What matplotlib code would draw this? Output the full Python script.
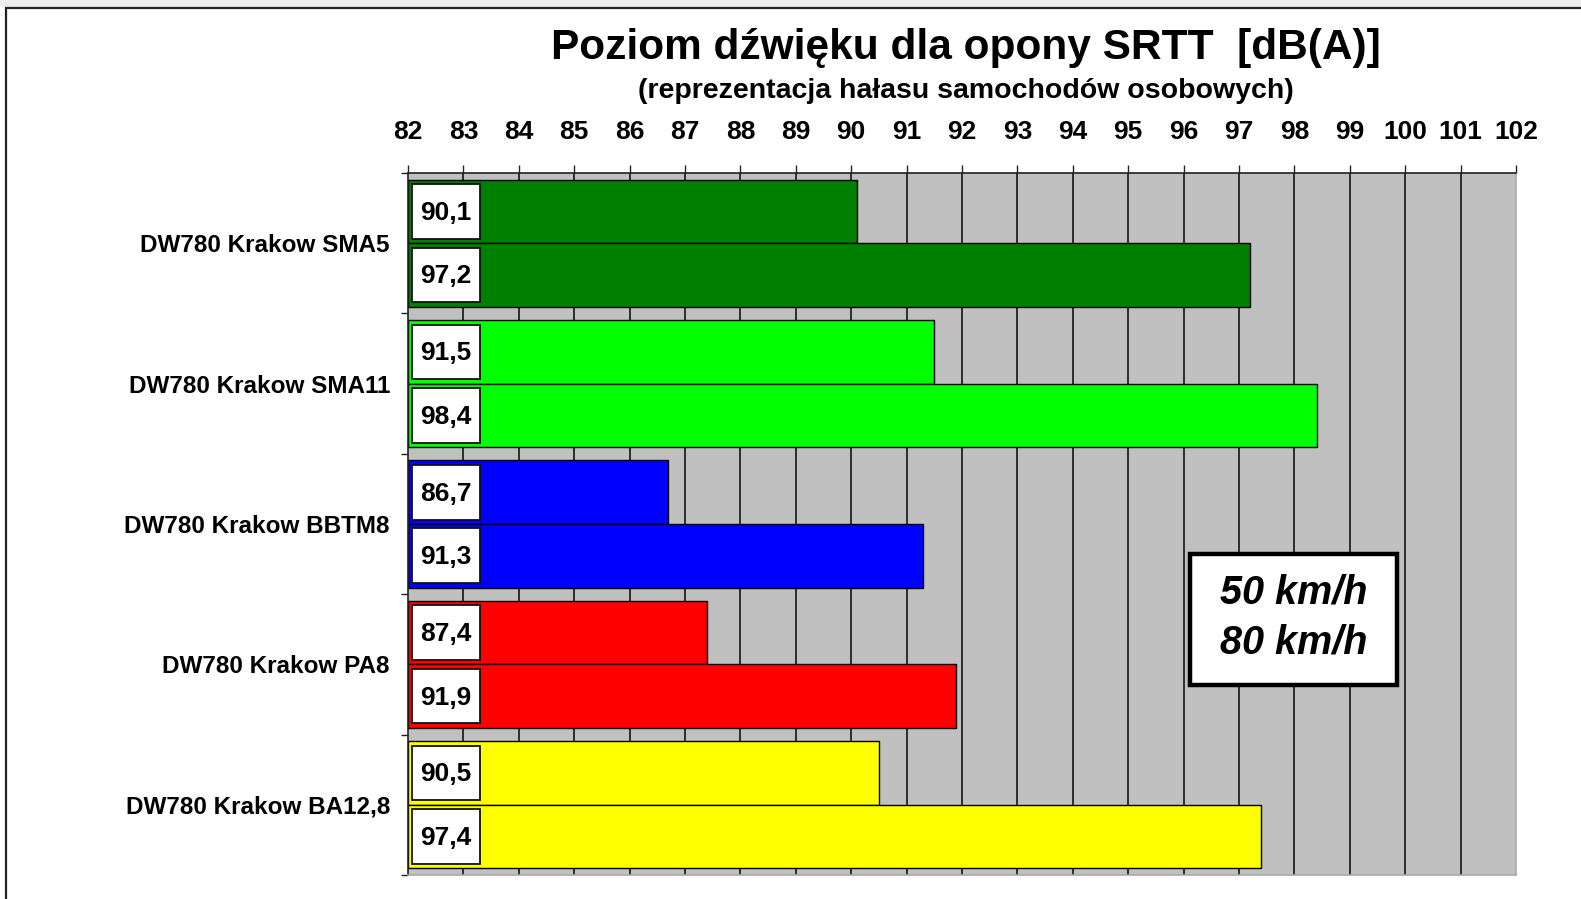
import matplotlib
matplotlib.use("Agg")
import matplotlib.pyplot as plt
from matplotlib.patches import Rectangle
import numpy as np

categories = ["DW780 Krakow SMA5", "DW780 Krakow SMA11", "DW780 Krakow BBTM8",
              "DW780 Krakow PA8", "DW780 Krakow BA12,8"]
speed_labels = ["50 km/h", "80 km/h"]
values_50 = [90.1, 91.5, 86.7, 87.4, 90.5]
values_80 = [97.2, 98.4, 91.3, 91.9, 97.4]
colors = ["#008000", "#00FF00", "#0000FF", "#FF0000", "#FFFF00"]
x_ticks = list(range(82, 103))
title = "Poziom dźwięku dla opony SRTT  [dB(A)]"
subtitle = "(reprezentacja hałasu samochodów osobowych)"

plt.rcParams['font.family'] = ['Liberation Sans', 'DejaVu Sans']

W, H = 1581, 899
fig = plt.figure(figsize=(W / 100, H / 100), dpi=100)
fig.patch.set_facecolor("white")

# outer frame like the source image
fig.add_artist(Rectangle((0, 1 - 7 / H), 1, 7 / H, transform=fig.transFigure,
                         facecolor="#ececec", edgecolor="none"))
fig.add_artist(Rectangle((6 / W, -0.05), 1.2, 1 - 8 / H + 0.05, transform=fig.transFigure,
                         facecolor="none", edgecolor="#222222", linewidth=1.6))

ax_left, ax_right, ax_top, ax_bottom = 408, 1516, 173, 875
ax = fig.add_axes([ax_left / W, 1 - ax_bottom / H, (ax_right - ax_left) / W,
                   (ax_bottom - ax_top) / H])
ax.set_facecolor("#C0C0C0")
xmin, xmax = x_ticks[0], x_ticks[-1]
ax.set_xlim(xmin, xmax)
n = len(categories)
ax.set_ylim(n - 0.5, -0.5)

# vertical gridlines
for t in x_ticks[1:-1]:
    ax.axvline(t, color="#222222", linewidth=1.3, zorder=1)

bar_h = 0.4525
y = np.arange(n)
for vals, off in ((values_50, -bar_h / 2), (values_80, bar_h / 2)):
    for i, v in enumerate(vals):
        yc = y[i] + off
        ax.barh(yc, v - xmin, left=xmin, height=bar_h, color=colors[i],
                edgecolor="black", linewidth=1.0, zorder=2)
        bx0, bx1 = xmin + 0.07, xmin + 1.30
        inset = 0.032
        ax.add_patch(Rectangle((bx0, yc - bar_h / 2 + inset), bx1 - bx0, bar_h - 2 * inset,
                               facecolor="white", edgecolor="#111111", linewidth=1.3, zorder=3))
        ax.text((bx0 + bx1) / 2, yc + 0.01, f"{v:.1f}".replace(".", ","), ha="center",
                va="center", fontsize=19, fontweight="bold", zorder=4)

# axes styling
ax.xaxis.tick_top()
ax.set_xticks(x_ticks)
ax.set_xticklabels([str(t) for t in x_ticks], fontsize=19, fontweight="bold")
ax.tick_params(axis="x", direction="out", length=6, width=1.0, pad=15, color="#222222")
ax.set_yticks(np.arange(-0.5, n, 1.0))
ax.set_yticklabels([])
ax.set_yticks(y, minor=True)
ax.set_yticklabels(categories, minor=True, fontsize=17.5, fontweight="bold")
ax.tick_params(axis="y", which="major", direction="out", length=5, width=1.0, color="#222222")
ax.tick_params(axis="y", which="minor", length=0, pad=13)
for s in ("top", "left"):
    ax.spines[s].set_color("#222222")
    ax.spines[s].set_linewidth(1.2)
for s in ("bottom", "right"):
    ax.spines[s].set_color("#a8a8a8")
    ax.spines[s].set_linewidth(1.2)

# legend box
lx0, lx1, ly0, ly1 = 1190, 1397, 554, 685
fig.add_artist(Rectangle((lx0 / W, 1 - ly1 / H), (lx1 - lx0) / W, (ly1 - ly0) / H,
                         transform=fig.transFigure, facecolor="white", edgecolor="black",
                         linewidth=3.2, zorder=5))
for lab, yy in zip(speed_labels, (593, 643)):
    fig.text((lx0 + lx1) / 2 / W, 1 - yy / H, lab, ha="center", va="center",
             fontsize=28.5, fontweight="bold", fontstyle="italic", zorder=6)

fig.text(966 / W, 1 - 48 / H, title, ha="center", va="center", fontsize=30.5, fontweight="bold")
fig.text(966 / W, 1 - 91 / H, subtitle, ha="center", va="center", fontsize=20.5,
         fontweight="bold")

fig.savefig("out.png", dpi=100)
